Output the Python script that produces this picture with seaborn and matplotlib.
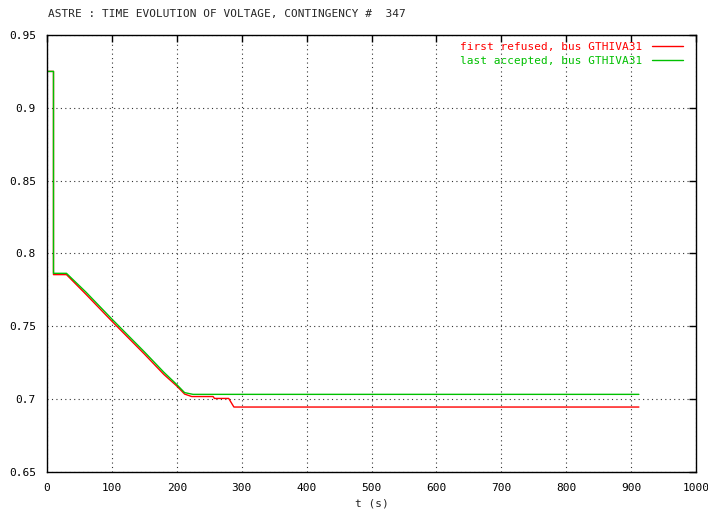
import matplotlib
matplotlib.use("Agg")
import matplotlib.pyplot as plt
import seaborn as sns
import pandas as pd
from matplotlib.lines import Line2D

# ---- data ----
t_refused = [0, 10, 10, 30, 60, 100, 120, 150, 180, 200, 212, 223, 256, 258, 280, 288, 912]
v_refused = [0.925, 0.925, 0.7855, 0.7855, 0.7720, 0.7535, 0.7445, 0.7310, 0.7170, 0.7090, 0.7035,
             0.7018, 0.7018, 0.7005, 0.7005, 0.6946, 0.6946]
t_accepted = [0, 10, 10, 30, 60, 100, 120, 150, 180, 200, 212, 225, 912]
v_accepted = [0.925, 0.925, 0.7864, 0.7864, 0.7735, 0.7550, 0.7460, 0.7325, 0.7185, 0.7100, 0.7045,
              0.7033, 0.7033]
series_names = ["first refused, bus GTHIVA31", "last accepted, bus GTHIVA31"]
series_colors = ["#ff0000", "#00c000"]
x_ticks = [0, 100, 200, 300, 400, 500, 600, 700, 800, 900, 1000]
y_ticks = [0.65, 0.7, 0.75, 0.8, 0.85, 0.9, 0.95]
y_tick_labels = ["0.65", "0.7", "0.75", "0.8", "0.85", "0.9", "0.95"]
title = "ASTRE : TIME EVOLUTION OF VOLTAGE, CONTINGENCY #  347"
x_label = "t (s)"

df = pd.concat([
    pd.DataFrame({"t": t_refused, "v": v_refused, "series": series_names[0]}),
    pd.DataFrame({"t": t_accepted, "v": v_accepted, "series": series_names[1]}),
], ignore_index=True)

sns.set_style("white")
plt.rcParams["font.family"] = ["DejaVu Sans Mono"]

fig = plt.figure(figsize=(7.08, 5.11), dpi=100)
ax = fig.add_axes([47 / 708, 1 - 472 / 511, (696 - 47) / 708, (472 - 35) / 511])

sns.lineplot(data=df, x="t", y="v", hue="series", palette=series_colors,
             estimator=None, sort=False, units="series", linewidth=1.0, ax=ax, legend=False)

ax.set_xlim(0, 1000)
ax.set_ylim(0.65, 0.95)
ax.set_xticks(x_ticks)
ax.set_xticklabels([str(x) for x in x_ticks], fontsize=8)
ax.set_yticks(y_ticks)
ax.set_yticklabels(y_tick_labels, fontsize=8)
ax.tick_params(direction="in", length=5, width=1, top=True, right=True, color="black",
               labelcolor="black", pad=8)
ax.grid(True, color="#333333", linestyle=(0, (1, 3)), linewidth=0.8)
for s in ax.spines.values():
    s.set_color("black")
    s.set_linewidth(1.0)

ax.set_xlabel(x_label, fontsize=8, labelpad=4)
ax.set_ylabel("")
fig.text(48 / 708, 1 - 14 / 511, title, fontsize=8, ha="left", va="center")

handles = [Line2D([], [], color=c, lw=1.0) for c in series_colors]
leg = ax.legend(handles, series_names, loc="upper right", bbox_to_anchor=(1 - 6 / 649, 1),
                frameon=False, markerfirst=False,
                labelcolor="linecolor", fontsize=8, handlelength=2.8, handletextpad=0.9,
                borderaxespad=0.3, labelspacing=0.35, borderpad=0.3)

fig.savefig("out.png", dpi=100, facecolor="white")
